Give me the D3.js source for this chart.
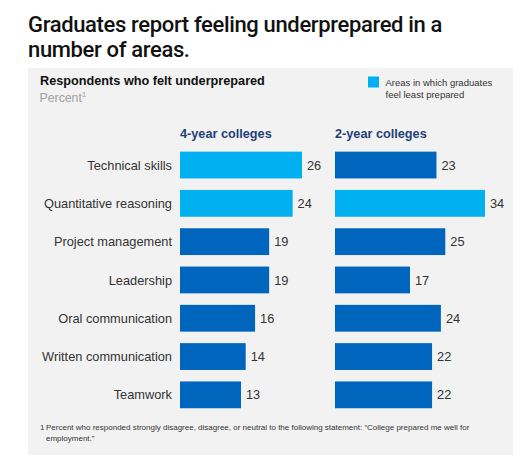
<!DOCTYPE html>
<html>
<head>
<meta charset="utf-8">
<script src="https://cdn.jsdelivr.net/npm/d3@7"></script>
<style>
  body { margin: 0; background: #fff; }
  svg { display: block; font-family: "Liberation Sans", Arial, sans-serif; }
</style>
</head>
<body>
<div id="chart"></div>
<script>
const categories = [
  'Technical skills',
  'Quantitative reasoning',
  'Project management',
  'Leadership',
  'Oral communication',
  'Written communication',
  'Teamwork'
];
const fourYear = [26, 24, 19, 19, 16, 14, 13];
const twoYear = [23, 34, 25, 17, 24, 22, 22];
// areas in which graduates feel least prepared
const fourYearLeast = [true, true, false, false, false, false, false];
const twoYearLeast = [false, true, false, false, false, false, false];
const columnTitles = ['4-year colleges', '2-year colleges'];

const width = 525;
const height = 465;
const dark = '#0065bd';
const light = '#00b0f0';

const svg = d3.select('#chart')
  .append('svg')
  .attr('width', width)
  .attr('height', height);

// title, tightened so the first line spans the same width as the original
const title = svg.append('text')
  .attr('x', 28)
  .attr('y', 31.5)
  .style('font-family', 'Roboto, "Liberation Sans", sans-serif')
  .style('font-weight', 500)
  .style('font-size', '22px')
  .attr('fill', '#111');
title.selectAll('tspan')
  .data(['Graduates report feeling underprepared in a', 'number of areas.'])
  .enter().append('tspan')
  .attr('x', 28)
  .attr('dy', (d, i) => i === 0 ? 0 : 25)
  .text(d => d);
const firstLine = title.select('tspan').node();
const spacing = (414 - firstLine.getComputedTextLength()) / firstLine.textContent.length;
title.style('letter-spacing', `${spacing}px`);

// grey panel
svg.append('rect')
  .attr('x', 28)
  .attr('y', 68)
  .attr('width', 485)
  .attr('height', 387)
  .attr('fill', '#f2f2f2');

svg.append('text')
  .attr('x', 40)
  .attr('y', 85)
  .style('font-size', '12.7px')
  .style('font-weight', 'bold')
  .attr('fill', '#111')
  .text('Respondents who felt underprepared');

const pct = svg.append('text')
  .attr('x', 39.5)
  .attr('y', 101.5)
  .style('font-size', '12.3px')
  .attr('fill', '#a0a0a0')
  .text('Percent');
pct.append('tspan')
  .attr('dy', -5)
  .style('font-size', '7.5px')
  .text('1');

// legend
svg.append('rect')
  .attr('x', 368)
  .attr('y', 76.5)
  .attr('width', 11)
  .attr('height', 11)
  .attr('fill', light);
svg.append('text')
  .attr('y', 86)
  .style('font-size', '9.5px')
  .attr('fill', '#333')
  .selectAll('tspan')
  .data(['Areas in which graduates', 'feel least prepared'])
  .enter().append('tspan')
  .attr('x', 385.5)
  .attr('dy', (d, i) => i === 0 ? 0 : 11.5)
  .text(d => d);

// scales
const y = d3.scaleBand()
  .domain(categories)
  .range([145.9, 414])
  .paddingInner(0.3)
  .paddingOuter(0.15);

const x4 = d3.scaleLinear().domain([0, 26]).range([0, 122]);
const x2 = d3.scaleLinear().domain([0, 34]).range([0, 150]);

const columns = [
  {x0: 180, scale: x4, values: fourYear, least: fourYearLeast, title: columnTitles[0]},
  {x0: 335, scale: x2, values: twoYear, least: twoYearLeast, title: columnTitles[1]}
];

// category labels
svg.append('g')
  .selectAll('text')
  .data(categories)
  .enter().append('text')
  .attr('x', 172)
  .attr('y', d => y(d) + y.bandwidth() / 2)
  .attr('dy', '0.36em')
  .attr('text-anchor', 'end')
  .style('font-size', '12.8px')
  .attr('fill', '#333')
  .text(d => d);

columns.forEach(col => {
  const g = svg.append('g').attr('transform', `translate(${col.x0}, 0)`);

  g.append('text')
    .attr('x', 0)
    .attr('y', 137.5)
    .style('font-size', '12.7px')
    .style('font-weight', 'bold')
    .attr('fill', '#1f3f77')
    .text(col.title);

  const rows = categories.map((c, i) => ({c, v: col.values[i], least: col.least[i]}));

  g.selectAll('rect')
    .data(rows)
    .enter().append('rect')
    .attr('x', 0)
    .attr('y', d => y(d.c))
    .attr('width', d => col.scale(d.v))
    .attr('height', y.bandwidth())
    .attr('fill', d => d.least ? light : dark);

  g.selectAll('.value')
    .data(rows)
    .enter().append('text')
    .attr('class', 'value')
    .attr('x', d => col.scale(d.v) + 5)
    .attr('y', d => y(d.c) + y.bandwidth() / 2)
    .attr('dy', '0.36em')
    .style('font-size', '12.8px')
    .attr('fill', '#333')
    .text(d => d.v);
});

// footnote
svg.append('text')
  .attr('x', 40)
  .attr('y', 430)
  .style('font-size', '8px')
  .attr('fill', '#333')
  .text('1');
svg.append('text')
  .attr('y', 430)
  .style('font-size', '8px')
  .attr('fill', '#333')
  .selectAll('tspan')
  .data(['Percent who responded strongly disagree, disagree, or neutral to the following statement: \u201cCollege prepared me well for',
    'employment.\u201d'])
  .enter().append('tspan')
  .attr('x', 46)
  .attr('dy', (d, i) => i === 0 ? 0 : 11)
  .text(d => d);
</script>
</body>
</html>
